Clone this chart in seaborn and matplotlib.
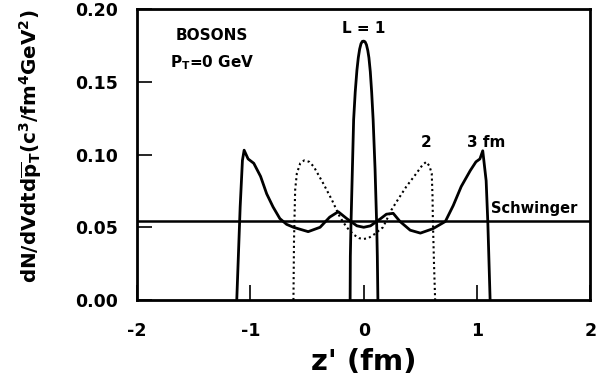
import matplotlib
matplotlib.use("Agg")
import matplotlib.pyplot as plt
import seaborn as sns
import pandas as pd

sns.set_style("ticks")
plt.rcParams['font.family'] = ['DejaVu Sans']
plt.rcParams['mathtext.fontset'] = 'dejavusans'
plt.rcParams['text.color'] = 'black'
plt.rcParams['axes.labelcolor'] = 'black'
plt.rcParams['xtick.color'] = 'black'
plt.rcParams['ytick.color'] = 'black'

# L = 1 fm (solid)
z_L1 = [-0.120, -0.118, -0.113, -0.100, -0.089, -0.075, -0.060, -0.048, -0.036, -0.024,
        -0.012, 0.000, 0.012, 0.024, 0.036, 0.046, 0.058, 0.070, 0.083, 0.100,
        0.115, 0.120, 0.125]
y_L1 = [0.000, 0.030, 0.050, 0.090, 0.124, 0.143, 0.158, 0.1665, 0.1725, 0.1762,
        0.1778, 0.178, 0.1775, 0.1755, 0.1715, 0.1665, 0.157, 0.143, 0.124, 0.090,
        0.050, 0.030, 0.000]

# L = 2 fm (dotted)
z_L2 = [-0.620, -0.615, -0.605, -0.590, -0.560, -0.525, -0.480, -0.440, -0.356, -0.280,
        -0.210, -0.150, -0.090, -0.040, 0.000, 0.040, 0.090, 0.170, 0.245, 0.290,
        0.376, 0.464, 0.520, 0.553, 0.580, 0.600, 0.607, 0.610, 0.620, 0.630]
y_L2 = [0.000, 0.041, 0.0756, 0.087, 0.094, 0.096, 0.095, 0.0916, 0.080, 0.0687,
        0.057, 0.050, 0.045, 0.0425, 0.042, 0.0425, 0.045, 0.050, 0.062, 0.0676,
        0.078, 0.087, 0.093, 0.095, 0.092, 0.087, 0.071, 0.055, 0.025, 0.000]

# L = 3 fm (solid)
z_L3 = [-1.120, -1.090, -1.070, -1.055, -1.020, -0.970, -0.910, -0.856, -0.800, -0.740,
        -0.680, -0.620, -0.490, -0.385, -0.300, -0.225, -0.150, -0.060, 0.000, 0.060,
        0.150, 0.200, 0.260, 0.320, 0.410, 0.500, 0.610, 0.720, 0.790, 0.860,
        0.940, 0.990, 1.025, 1.050, 1.080, 1.095, 1.115]
y_L3 = [0.000, 0.064, 0.096, 0.103, 0.097, 0.094, 0.085, 0.073, 0.064, 0.056,
        0.052, 0.050, 0.047, 0.050, 0.057, 0.0607, 0.056, 0.051, 0.050, 0.051,
        0.056, 0.059, 0.0596, 0.054, 0.048, 0.046, 0.049, 0.054, 0.065, 0.078,
        0.089, 0.095, 0.097, 0.1026, 0.082, 0.053, 0.000]

# Schwinger constant
z_sch = [-2.0, 2.0]
y_sch = [0.054, 0.054]

xticks = [-2, -1, 0, 1, 2]
xtick_labels = ["-2", "-1", "0", "1", "2"]
yticks = [0.00, 0.05, 0.10, 0.15, 0.20]
ytick_labels = ["0.00", "0.05", "0.10", "0.15", "0.20"]

fig = plt.figure(figsize=(5.97, 3.79), dpi=100)
ax = fig.add_axes([0.2295, 0.2084, 0.7595, 0.7676])

def draw(z, y, **kw):
    df = pd.DataFrame({"z": z, "y": y})
    sns.lineplot(data=df, x="z", y="y", sort=False, estimator=None, ax=ax, **kw)

draw(z_sch, y_sch, color="black", linewidth=1.8)
draw(z_L1, y_L1, color="black", linewidth=2.0)
draw(z_L2, y_L2, color="black", linewidth=1.5, linestyle=(0, (1, 1.5)))
draw(z_L3, y_L3, color="black", linewidth=2.0)

ax.set_xlim(-2, 2)
ax.set_ylim(0, 0.20)
ax.set_xticks(xticks)
ax.set_xticklabels(xtick_labels)
ax.set_yticks(yticks)
ax.set_yticklabels(ytick_labels)
ax.tick_params(direction="in", length=11, width=1.2, labelsize=12.5, pad=14, colors="black")
ax.tick_params(axis="x", pad=16)
for lab in ax.get_xticklabels() + ax.get_yticklabels():
    lab.set_fontweight("bold")
for sp in ax.spines.values():
    sp.set_linewidth(2.0)
    sp.set_visible(True)
    sp.set_color("black")

ax.set_xlabel("")
ax.set_ylabel("")
fig.text(0.6097, 0.0449, "z' (fm)", fontsize=21, fontweight="bold", ha="center", va="center")
fig.text(0.0519, 0.6135,
         r"dN/dVdtd$\mathbf{\overline{p}_T}$(c$\mathbf{^3}$/fm$\mathbf{^4}$GeV$\mathbf{^2}$)",
         fontsize=14.3, fontweight="bold", ha="center", va="center", rotation=90)

ax.text(-1.34, 0.182, "BOSONS", fontsize=11, fontweight="bold", ha="center", va="center")
ax.text(-1.34, 0.163, r"P$\mathbf{_T}$=0 GeV", fontsize=11, fontweight="bold", ha="center", va="center")
ax.text(0.0, 0.187, "L = 1", fontsize=11, fontweight="bold", ha="center", va="center")
ax.text(0.55, 0.108, "2", fontsize=11, fontweight="bold", ha="center", va="center")
ax.text(1.08, 0.108, "3 fm", fontsize=11, fontweight="bold", ha="center", va="center")
ax.text(1.50, 0.063, "Schwinger", fontsize=10.5, fontweight="bold", ha="center", va="center")

fig.savefig("out.png", dpi=100)
